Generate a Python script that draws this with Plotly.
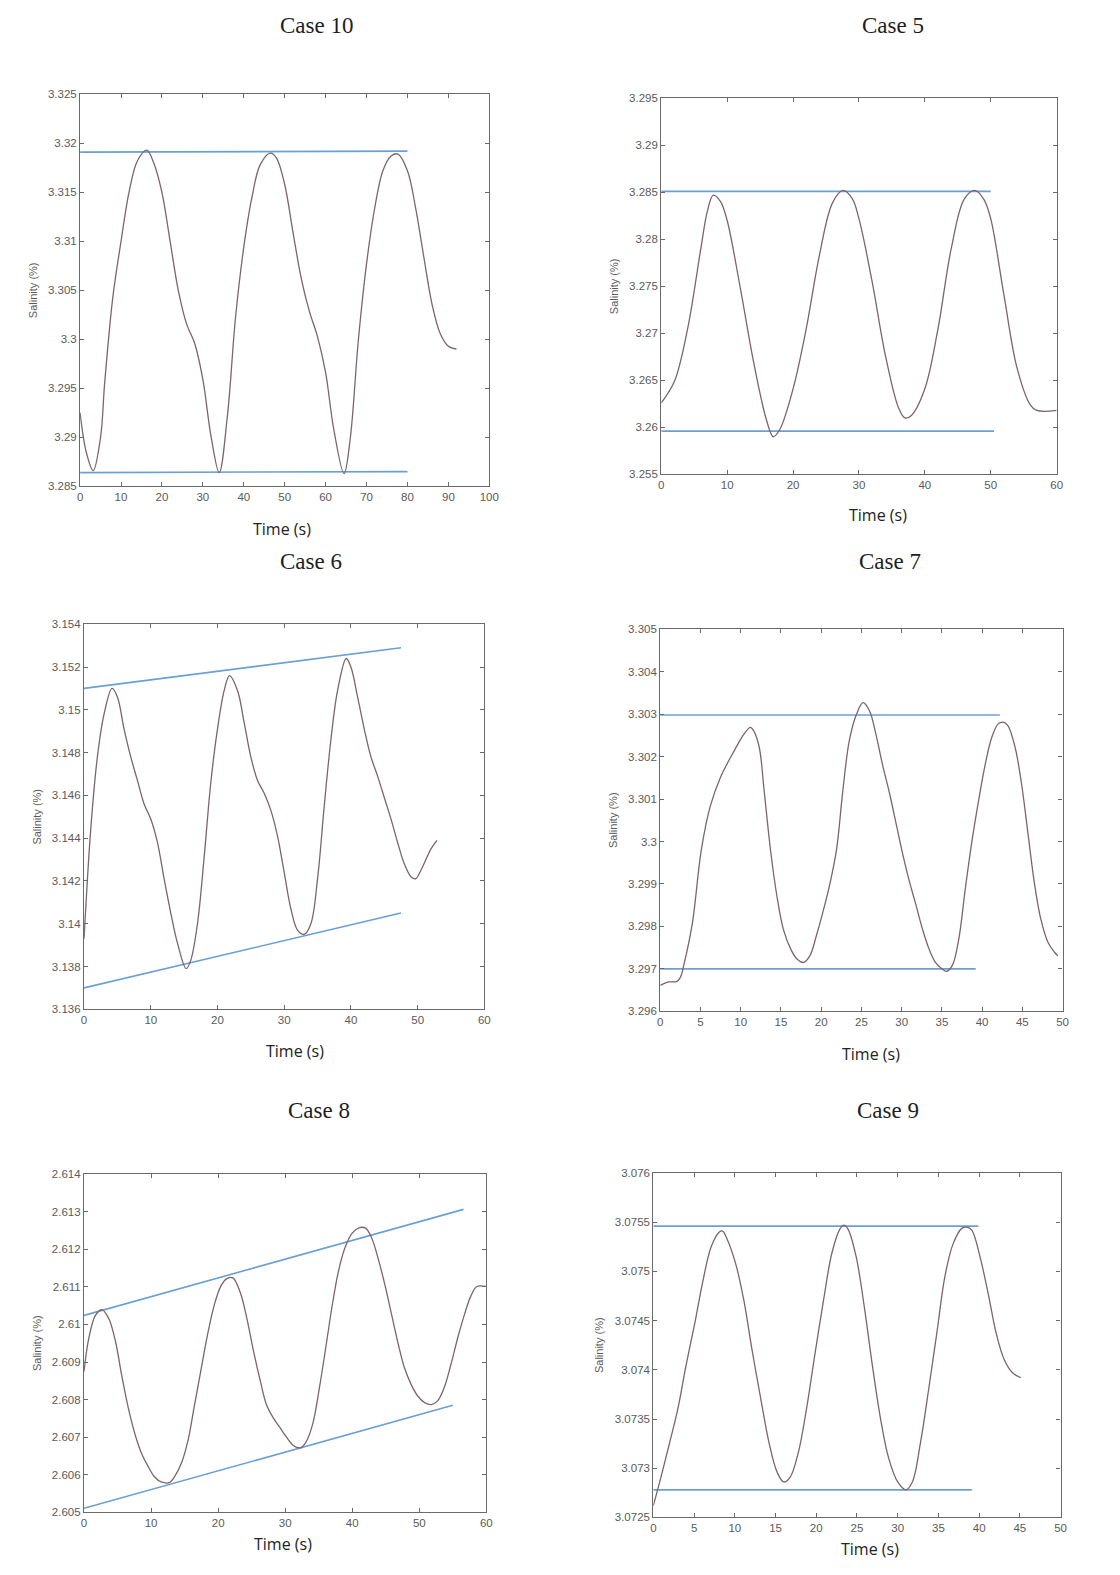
import plotly.graph_objects as go

W, H = 1120, 1575

# ---------------- Case 10 ----------------
c10_t = [0, 1.5, 3.2, 5, 6, 8, 10, 12, 14, 16.3, 18, 20, 22, 24, 26, 28, 30, 32, 34, 36, 38, 40, 42, 44,
         46.5, 48, 50, 52, 54, 56, 58, 60, 62, 64.5, 66, 68, 70, 72, 74, 76, 77.7, 80, 82, 84, 86, 88, 90, 92]
c10_s = [3.2925, 3.2885, 3.2866, 3.2900, 3.2955, 3.3043, 3.3100, 3.3151, 3.3182, 3.3193, 3.3180, 3.3150,
         3.3100, 3.3050, 3.3016, 3.2996, 3.2959, 3.2901, 3.2864, 3.2922, 3.3023, 3.3094, 3.3145, 3.3178,
         3.3190, 3.3185, 3.3158, 3.3110, 3.3063, 3.3029, 3.3003, 3.2966, 3.2908, 3.2863, 3.2898, 3.2999,
         3.3077, 3.3134, 3.3172, 3.3187, 3.3189, 3.3172, 3.3134, 3.3084, 3.3036, 3.3006, 3.2993, 3.2990]
c10_upper_t, c10_upper_s = [0, 80], [3.3191, 3.3192]
c10_lower_t, c10_lower_s = [0, 80], [3.2864, 3.2865]
c10_xticks = [0, 10, 20, 30, 40, 50, 60, 70, 80, 90, 100]
c10_yticks = [3.285, 3.29, 3.295, 3.3, 3.305, 3.31, 3.315, 3.32, 3.325]
c10_ylabels = ["3.285", "3.29", "3.295", "3.3", "3.305", "3.31", "3.315", "3.32", "3.325"]

# ---------------- Case 5 ----------------
c5_t = [0, 2, 4, 6, 7, 7.9, 9, 10, 12, 14, 16, 17, 18, 20, 22, 24, 26, 27.6, 29, 30, 32, 34, 36, 37, 38,
        40, 42, 44, 46, 47.6, 49, 50, 52, 54, 56, 57, 60]
c5_s = [3.2626, 3.2649, 3.2705, 3.2790, 3.2830, 3.2847, 3.2840, 3.2820, 3.2748, 3.2670, 3.2607, 3.2590,
        3.2598, 3.2641, 3.2705, 3.2783, 3.2839, 3.2852, 3.2843, 3.2822, 3.2755, 3.2677, 3.2621, 3.2610,
        3.2613, 3.2641, 3.2705, 3.2790, 3.2843, 3.2852, 3.2842, 3.2822, 3.2741, 3.2663, 3.2624, 3.2618,
        3.2618]
c5_upper_t, c5_upper_s = [0, 50], [3.2851, 3.2851]
c5_lower_t, c5_lower_s = [0, 50.5], [3.2596, 3.2596]
c5_xticks = [0, 10, 20, 30, 40, 50, 60]
c5_yticks = [3.255, 3.26, 3.265, 3.27, 3.275, 3.28, 3.285, 3.29, 3.295]
c5_ylabels = ["3.255", "3.26", "3.265", "3.27", "3.275", "3.28", "3.285", "3.29", "3.295"]

# ---------------- Case 6 ----------------
c6_t = [0, 1, 2, 3, 4.2, 5, 6, 7, 8, 9, 10, 11, 12, 13, 14, 15.3, 16, 17, 18, 19, 20, 21, 21.8, 23, 24,
        25, 26, 27, 28, 29, 30, 31, 32, 33, 34, 35, 36, 37, 38, 39.3, 40, 41, 42, 43, 44, 45, 46, 47, 48,
        49, 49.7, 50.5, 52, 52.9]
c6_s = [3.1393, 3.1444, 3.1478, 3.1498, 3.1510, 3.1506, 3.1491, 3.1478, 3.1467, 3.1456, 3.1449, 3.1438,
        3.1421, 3.1405, 3.1391, 3.1379, 3.1383, 3.1400, 3.1431, 3.1466, 3.1491, 3.1509, 3.1516, 3.1509,
        3.1494, 3.1478, 3.1467, 3.1461, 3.1453, 3.1441, 3.1424, 3.1407, 3.1397, 3.1395, 3.1400, 3.1421,
        3.1455, 3.1486, 3.1509, 3.1524, 3.1520, 3.1506, 3.1491, 3.1478, 3.1469, 3.1459, 3.1449, 3.1438,
        3.1428, 3.1422, 3.1421, 3.1425, 3.1435, 3.1439]
c6_upper_t, c6_upper_s = [0, 47.5], [3.1510, 3.1529]
c6_lower_t, c6_lower_s = [0, 47.5], [3.1370, 3.1405]
c6_xticks = [0, 10, 20, 30, 40, 50, 60]
c6_yticks = [3.136, 3.138, 3.14, 3.142, 3.144, 3.146, 3.148, 3.15, 3.152, 3.154]
c6_ylabels = ["3.136", "3.138", "3.14", "3.142", "3.144", "3.146", "3.148", "3.15", "3.152", "3.154"]

# ---------------- Case 7 ----------------
c7_t = [0, 1, 2, 2.5, 3, 4, 5.1, 6.2, 7.5, 9.2, 10.4, 11.2, 11.6, 12.3, 12.9, 13.7, 14.5, 15.3, 16.2, 17,
        17.8, 18.6, 19.4, 20.3, 21.1, 21.9, 22.7, 23.5, 24.4, 25.2, 26, 26.8, 27.6, 28.5, 29.3, 30.1, 30.9,
        31.7, 32.6, 33.4, 34.2, 35, 35.6, 36.3, 37.1, 37.9, 38.7, 39.5, 40.4, 41.2, 42, 42.6, 43.2, 44.1,
        44.9, 45.7, 46.5, 47.3, 48.2, 49, 49.4]
c7_s = [3.29661, 3.29669, 3.2967, 3.2968, 3.29715, 3.29809, 3.2998, 3.30082, 3.30152, 3.30214, 3.30253,
        3.30269, 3.30261, 3.30222, 3.30121, 3.2998, 3.29871, 3.29793, 3.29747, 3.29723, 3.29715, 3.29731,
        3.29778, 3.2984, 3.29902, 3.2998, 3.30121, 3.30238, 3.3030, 3.30327, 3.30308, 3.30253, 3.30183,
        3.30113, 3.30043, 3.29973, 3.2991, 3.29856, 3.29793, 3.29747, 3.29715, 3.2970, 3.29694, 3.29708,
        3.2977, 3.29887, 3.29996, 3.30089, 3.30183, 3.30245, 3.30277, 3.30281, 3.30273, 3.30222, 3.30136,
        3.30019, 3.29902, 3.29817, 3.29762, 3.29739, 3.29731]
c7_upper_t, c7_upper_s = [0, 42.2], [3.30298, 3.30298]
c7_lower_t, c7_lower_s = [0, 39.2], [3.2970, 3.2970]
c7_xticks = [0, 5, 10, 15, 20, 25, 30, 35, 40, 45, 50]
c7_yticks = [3.296, 3.297, 3.298, 3.299, 3.3, 3.301, 3.302, 3.303, 3.304, 3.305]
c7_ylabels = ["3.296", "3.297", "3.298", "3.299", "3.3", "3.301", "3.302", "3.303", "3.304", "3.305"]

# ---------------- Case 8 ----------------
c8_t = [0, 0.7, 1.7, 2.7, 3.7, 4.7, 5.6, 6.6, 7.6, 8.6, 9.6, 10.5, 11.5, 12.8, 13.5, 14.5, 15.5, 16.4,
        17.4, 18.4, 19.4, 20.4, 21.3, 22.2, 23.3, 24.3, 25.3, 26.3, 27.2, 28.2, 29.2, 30.2, 31.2, 32.3,
        33.1, 34.1, 35.1, 36.1, 37, 38, 39, 40, 41, 42, 42.9, 43.9, 44.9, 45.9, 46.9, 47.8, 48.8, 49.8,
        50.8, 51.8, 52.7, 53.7, 54.7, 55.7, 56.7, 57.7, 58.6, 59.9]
c8_s = [2.60875, 2.60962, 2.61024, 2.61039, 2.61015, 2.60954, 2.60866, 2.60778, 2.60708, 2.60656,
        2.60621, 2.60595, 2.60581, 2.60580, 2.60595, 2.6063, 2.60691, 2.60778, 2.60875, 2.60971, 2.6105,
        2.61102, 2.61122, 2.61124, 2.61085, 2.61015, 2.60927, 2.60849, 2.60787, 2.60752, 2.60726, 2.607,
        2.60678, 2.60672, 2.60687, 2.60735, 2.60831, 2.60944, 2.61049, 2.61146, 2.61208, 2.61243,
        2.61257, 2.61256, 2.6123, 2.61173, 2.61103, 2.61024, 2.60945, 2.60884, 2.6084, 2.60809, 2.60792,
        2.60787, 2.60796, 2.60831, 2.60892, 2.60962, 2.61024, 2.61076, 2.61101, 2.61101]
c8_upper_t, c8_upper_s = [0, 56.6], [2.61024, 2.61306]
c8_lower_t, c8_lower_s = [0, 55.0], [2.60511, 2.60785]
c8_xticks = [0, 10, 20, 30, 40, 50, 60]
c8_yticks = [2.605, 2.606, 2.607, 2.608, 2.609, 2.61, 2.611, 2.612, 2.613, 2.614]
c8_ylabels = ["2.605", "2.606", "2.607", "2.608", "2.609", "2.61", "2.611", "2.612", "2.613", "2.614"]

# ---------------- Case 9 ----------------
c9_t = [0, 1, 2, 3, 4, 5.1, 6.1, 7.1, 8.1, 8.5, 9.1, 10.1, 11.1, 12.1, 13.2, 14.2, 15.2, 16, 16.8, 17.8,
        18.8, 19.8, 20.9, 21.9, 22.9, 23.4, 23.9, 24.9, 25.9, 26.9, 27.9, 28.9, 30, 31, 31.8, 32.8, 33.8,
        34.8, 35.8, 36.8, 37.9, 38.5, 39.1, 40.1, 41.1, 42.1, 43.1, 44.1, 45.1]
c9_s = [3.07262, 3.07293, 3.07326, 3.0736, 3.07404, 3.07448, 3.07491, 3.07525, 3.0754, 3.07541, 3.07532,
        3.07508, 3.07471, 3.07421, 3.0737, 3.07326, 3.07296, 3.07286, 3.07291, 3.07316, 3.0736, 3.07414,
        3.07471, 3.07518, 3.07543, 3.07547, 3.07543, 3.07515, 3.07464, 3.07404, 3.0735, 3.0731, 3.07286,
        3.07278, 3.07286, 3.07326, 3.0738, 3.07437, 3.07495, 3.07528, 3.07544, 3.07545, 3.07542, 3.07515,
        3.07478, 3.07437, 3.0741, 3.07397, 3.07392]
c9_upper_t, c9_upper_s = [0, 39.9], [3.07546, 3.07546]
c9_lower_t, c9_lower_s = [0, 39.1], [3.07278, 3.07278]
c9_xticks = [0, 5, 10, 15, 20, 25, 30, 35, 40, 45, 50]
c9_yticks = [3.0725, 3.073, 3.0735, 3.074, 3.0745, 3.075, 3.0755, 3.076]
c9_ylabels = ["3.0725", "3.073", "3.0735", "3.074", "3.0745", "3.075", "3.0755", "3.076"]

panels = [
    dict(title="Case 10", t=c10_t, s=c10_s, up=(c10_upper_t, c10_upper_s), lo=(c10_lower_t, c10_lower_s),
         xt=c10_xticks, yt=c10_yticks, yl=c10_ylabels, box=(78, 492, 89, 484),
         title_xy=(317, 20), xlab_xy=(282, 527)),
    dict(title="Case 5", t=c5_t, s=c5_s, up=(c5_upper_t, c5_upper_s), lo=(c5_lower_t, c5_lower_s),
         xt=c5_xticks, yt=c5_yticks, yl=c5_ylabels, box=(666, 1066, 93, 472),
         title_xy=(900, 20), xlab_xy=(885, 513)),
    dict(title="Case 6", t=c6_t, s=c6_s, up=(c6_upper_t, c6_upper_s), lo=(c6_lower_t, c6_lower_s),
         xt=c6_xticks, yt=c6_yticks, yl=c6_ylabels, box=(82, 487, 623, 1011),
         title_xy=(312, 560), xlab_xy=(295, 1053)),
    dict(title="Case 7", t=c7_t, s=c7_s, up=(c7_upper_t, c7_upper_s), lo=(c7_lower_t, c7_lower_s),
         xt=c7_xticks, yt=c7_yticks, yl=c7_ylabels, box=(665, 1072, 628, 1013),
         title_xy=(897, 560), xlab_xy=(878, 1056)),
    dict(title="Case 8", t=c8_t, s=c8_s, up=(c8_upper_t, c8_upper_s), lo=(c8_lower_t, c8_lower_s),
         xt=c8_xticks, yt=c8_yticks, yl=c8_ylabels, box=(82, 489, 1177, 1518),
         title_xy=(320, 1113), xlab_xy=(283, 1550)),
    dict(title="Case 9", t=c9_t, s=c9_s, up=(c9_upper_t, c9_upper_s), lo=(c9_lower_t, c9_lower_s),
         xt=c9_xticks, yt=c9_yticks, yl=c9_ylabels, box=(658, 1070, 1176, 1523),
         title_xy=(895, 1113), xlab_xy=(877, 1555)),
]

CURVE = "#7d6468"
ENVELOPE = "#6a9fd4"
FRAME = "#6a6a6a"
NARROW = "Liberation Sans Narrow, Liberation Sans, Arial"
TICKFONT = dict(family=NARROW, size=11.5, color="#5a5a5a")

fig = go.Figure()
layout = dict(
    width=W, height=H, margin=dict(l=0, r=0, t=0, b=0),
    paper_bgcolor="white", plot_bgcolor="white", showlegend=False,
)
annotations = []

for i, p in enumerate(panels, start=1):
    xa = "x" if i == 1 else f"x{i}"
    ya = "y" if i == 1 else f"y{i}"
    L, R, T, B = p["box"]
    xkey = "xaxis" if i == 1 else f"xaxis{i}"
    ykey = "yaxis" if i == 1 else f"yaxis{i}"
    layout[xkey] = dict(
        domain=[L / W, R / W], anchor=ya, range=[p["xt"][0], p["xt"][-1]],
        tickvals=p["xt"], ticktext=[str(v) for v in p["xt"]],
        ticks="inside", ticklen=4, tickcolor=FRAME, showline=True, linecolor=FRAME,
        linewidth=1.2, mirror="allticks", showgrid=False, zeroline=False, tickfont=TICKFONT,
    )
    layout[ykey] = dict(
        domain=[1 - B / H, 1 - T / H], anchor=xa, range=[p["yt"][0], p["yt"][-1]],
        tickvals=p["yt"], ticktext=p["yl"],
        ticks="inside", ticklen=4, tickcolor=FRAME, showline=True, linecolor=FRAME,
        linewidth=1.2, mirror="allticks", showgrid=False, zeroline=False, tickfont=TICKFONT,
        title=dict(text="Salinity (%)", font=dict(family="Liberation Sans", size=11, color="#5a5a5a"),
                   standoff=8),
    )
    # envelope lines
    for tt, ss in (p["up"], p["lo"]):
        fig.add_trace(go.Scatter(x=tt, y=ss, mode="lines", xaxis=xa, yaxis=ya,
                                 line=dict(color=ENVELOPE, width=1.6), hoverinfo="skip"))
    # salinity time series
    fig.add_trace(go.Scatter(x=p["t"], y=p["s"], mode="lines", xaxis=xa, yaxis=ya,
                             line=dict(color=CURVE, width=1.3, shape="spline", smoothing=1.0)))
    tx, ty = p["title_xy"]
    annotations.append(dict(text=p["title"], x=tx / W, y=1 - ty / H, xref="paper", yref="paper",
                            showarrow=False, xanchor="center", yanchor="middle",
                            font=dict(family="Liberation Serif", size=23, color="#1e1e1e")))
    lx, ly = p["xlab_xy"]
    annotations.append(dict(text="Time (s)", x=lx / W, y=1 - ly / H, xref="paper", yref="paper",
                            showarrow=False, xanchor="center", yanchor="middle",
                            font=dict(family="Open Sans", size=16, color="#222222")))

layout["annotations"] = annotations
fig.update_layout(**layout)
fig.write_html("out.html")
